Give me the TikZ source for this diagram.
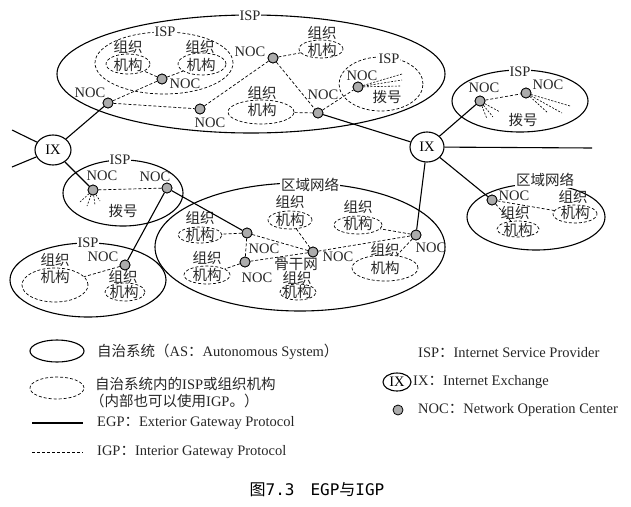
\documentclass[tikz,border=0pt]{standalone}
\usepackage{fontspec}
\setmainfont{Liberation Serif}
\newfontfamily\cjk{Noto Sans CJK SC}
\newfontfamily\capmono{DejaVu Sans Mono}
\usetikzlibrary{shapes.geometric}
\definecolor{txt}{HTML}{262626}
\begin{document}
\begin{tikzpicture}[x=1pt,y=-1pt,
  as/.style={draw, ellipse, line width=1.1pt, inner sep=0pt},
  sub/.style={draw, ellipse, line width=0.7pt, dash pattern=on 3pt off 2pt, inner sep=0pt},
  noc/.style={circle, draw, fill=gray!65, line width=0.8pt, minimum size=10pt, inner sep=0pt},
  ixn/.style={draw, ellipse, line width=1.1pt, inner sep=0pt, font=\fontsize{14.5}{15}\selectfont},
  egp/.style={line width=1.1pt},
  igp/.style={line width=0.7pt, dash pattern=on 3pt off 2pt},
  dial/.style={line width=0.6pt, dash pattern=on 2pt off 1.5pt},
  lbl/.style={font=\fontsize{14.5}{15}\selectfont, text=txt, inner sep=0.5pt},
  zh/.style={font=\cjk\fontsize{14.5}{15}\selectfont, text=txt, inner sep=0pt},
  top/.style={fill=white, inner sep=1pt},
  leg/.style={anchor=west, font=\fontsize{14.5}{16}\selectfont, text=txt, inner sep=0pt},
]
\useasboundingbox (0,0) rectangle (631,506);

% ===== top AS =====
\node[as, minimum width=388, minimum height=118] (as1) at (251,74) {};
\node[lbl, top] (as1l) at (250,16) {ISP};
\node[sub, minimum width=138, minimum height=62] (isp1) at (164,63) {};
\node[lbl, top] (isp1l) at (165,32) {ISP};
\node[sub, minimum width=44, minimum height=20] (o1a) at (128,64) {};
\node[zh] (o1at) at (128,47) {组织};
\node[zh] (o1ab) at (128,65) {机构};
\node[sub, minimum width=48, minimum height=22] (o1b) at (202,64) {};
\node[zh] (o1bt) at (200,47) {组织};
\node[zh] (o1bb) at (201,65) {机构};
\node[noc] (n1) at (162,79) {};
\node[lbl] (n1l) at (185,84) {NOC};
\node[noc] (n2) at (108,103) {};
\node[lbl] (n2l) at (90,93) {NOC};
\node[noc] (n3) at (200,109) {};
\node[lbl] (n3l) at (210,123) {NOC};
\node[noc] (n4) at (273,58) {};
\node[lbl] (n4l) at (250,52) {NOC};
\node[sub, minimum width=44, minimum height=18] (o1c) at (321,49) {};
\node[zh] (o1ct) at (322,33) {组织};
\node[zh] (o1cb) at (322,50) {机构};
\node[sub, minimum width=66, minimum height=24] (o1d) at (261,112) {};
\node[zh] (o1dt) at (262,93) {组织};
\node[zh] (o1db) at (262,110) {机构};
\node[noc] (n5) at (318,113) {};
\node[lbl] (n5l) at (323,95) {NOC};
\node[sub, minimum width=84, minimum height=54] (isp2) at (381,84) {};
\node[lbl, top] (isp2l) at (389,59) {ISP};
\node[noc] (n6) at (358,87) {};
\node[lbl] (n6l) at (362,76) {NOC};
\node[zh] (d6) at (387,97) {拨号};
\coordinate (d6a) at (402,74);
\coordinate (d6b) at (402,80);
\coordinate (d6c) at (400,86);

% ===== left IX & ISPs =====
\node[ixn, minimum width=36, minimum height=30] (ix1) at (53,150) {IX};
\coordinate (e1) at (12,130);
\coordinate (e2) at (12,167);
\node[as, minimum width=120, minimum height=66] (isp3) at (123,193) {};
\node[lbl, top] (isp3l) at (120,160) {ISP};
\node[noc] (n7) at (93,190) {};
\node[lbl] (n7l) at (102,176) {NOC};
\node[noc] (n8) at (167,188) {};
\node[lbl] (n8l) at (155,177) {NOC};
\node[zh] (d7) at (123,211) {拨号};
\coordinate (d7a) at (80,202);
\coordinate (d7b) at (87,206);
\coordinate (d7c) at (95,205);
\coordinate (d7d) at (100,201);

\node[as, minimum width=156, minimum height=74] (isp4) at (88,280) {};
\node[lbl, top] (isp4l) at (88,243) {ISP};
\node[noc] (n9) at (125,265) {};
\node[lbl] (n9l) at (103,257) {NOC};
\node[sub, minimum width=66, minimum height=34] (o4a) at (55,285) {};
\node[zh] (o4at) at (55,260) {组织};
\node[zh] (o4ab) at (55,277) {机构};
\node[sub, minimum width=40, minimum height=18] (o4b) at (125,292) {};
\node[zh] (o4bt) at (123,277) {组织};
\node[zh] (o4bb) at (124,292) {机构};

% ===== middle region =====
\node[as, minimum width=290, minimum height=128] (r1) at (300,247) {};
\node[zh, top] (r1l) at (310,185) {区域网络};
\node[noc] (nA) at (247,233) {};
\node[lbl] (nAl) at (264,249) {NOC};
\node[noc] (nB) at (245,262) {};
\node[lbl] (nBl) at (257,278) {NOC};
\node[noc] (nC) at (313,252) {};
\node[lbl] (nCl) at (338,257) {NOC};
\node[noc] (nD) at (416,235) {};
\node[lbl] (nDl) at (431,248) {NOC};
\node[sub, minimum width=44, minimum height=16] (rA) at (200,235) {};
\node[zh] (rAt) at (200,218) {组织};
\node[zh] (rAb) at (200,235) {机构};
\node[sub, minimum width=46, minimum height=18] (rB) at (207,275) {};
\node[zh] (rBt) at (207,258) {组织};
\node[zh] (rBb) at (207,275) {机构};
\node[sub, minimum width=44, minimum height=18] (rC) at (290,220) {};
\node[zh] (rCt) at (290,202) {组织};
\node[zh] (rCb) at (290,220) {机构};
\node[zh] (bb) at (296,264) {骨干网};
\node[sub, minimum width=36, minimum height=16] (rD) at (298,292) {};
\node[zh] (rDt) at (297,278) {组织};
\node[zh] (rDb) at (297,292) {机构};
\node[sub, minimum width=48, minimum height=18] (rE) at (358,225) {};
\node[zh] (rEt) at (358,207) {组织};
\node[zh] (rEb) at (358,224) {机构};
\node[sub, minimum width=66, minimum height=26] (rF) at (385,268) {};
\node[zh] (rFt) at (385,250) {组织};
\node[zh] (rFb) at (385,268) {机构};

% ===== right IX & ISP =====
\node[ixn, minimum width=34, minimum height=30] (ix2) at (427,147) {IX};
\coordinate (e3) at (592,148);
\node[as, minimum width=136, minimum height=62] (isp5) at (520,101) {};
\node[lbl, top] (isp5l) at (520,72) {ISP};
\node[noc] (n10) at (480,101) {};
\node[lbl] (n10l) at (484,88) {NOC};
\node[noc] (n11) at (526,93) {};
\node[lbl] (n11l) at (548,85) {NOC};
\node[zh] (d10) at (523,120) {拨号};
\coordinate (d10a) at (487,119);
\coordinate (d10b) at (493,117);
\coordinate (d10c) at (500,112);
\coordinate (d11a) at (570,106);
\coordinate (d11b) at (562,113);
\coordinate (d11c) at (548,113);

\node[as, minimum width=138, minimum height=66] (r2) at (536,217) {};
\node[zh, top] (r2l) at (545,180) {区域网络};
\node[noc] (n12) at (492,200) {};
\node[lbl] (n12l) at (514,196) {NOC};
\node[sub, minimum width=42, minimum height=16] (rG) at (518,229) {};
\node[zh] (rGt) at (515,213) {组织};
\node[zh] (rGb) at (518,230) {机构};
\node[sub, minimum width=44, minimum height=18] (rH) at (575,214) {};
\node[zh] (rHt) at (573,197) {组织};
\node[zh] (rHb) at (575,213) {机构};

% ===== EGP links =====
\draw[egp] (ix1) -- (n2);
\draw[egp] (ix1) -- (n7);
\draw[egp] (ix1) -- (e1);
\draw[egp] (ix1) -- (e2);
\draw[egp] (n8) -- (n9);
\draw[egp] (n8) -- (nA);
\draw[egp] (n5) -- (ix2);
\draw[egp] (ix2) -- (n10);
\draw[egp] (ix2) -- (e3);
\draw[egp] (ix2) -- (nD);
\draw[egp] (ix2) -- (n12);

% ===== IGP links =====
\draw[igp] (n2) -- (n1);
\draw[igp] (n2) -- (n3);
\draw[igp] (n1) -- (o1a);
\draw[igp] (n1) -- (o1b);
\draw[igp] (n3) -- (n4);
\draw[igp] (n4) -- (o1c);
\draw[igp] (n4) -- (n5);
\draw[igp] (n5) -- (o1d);
\draw[igp] (n5) -- (n6);
\draw[igp] (n7) -- (n8);
\draw[igp] (n9) -- (o4a);
\draw[igp] (n10) -- (n11);
\draw[igp] (nA) -- (rA);
\draw[igp] (nA) -- (nB);
\draw[igp] (nA) -- (nC);
\draw[igp] (nB) -- (rB);
\draw[igp] (nB) -- (nC);
\draw[igp] (nC) -- (rC);
\draw[igp] (nC) -- (nD);
\draw[igp] (nD) -- (rE);
\draw[igp] (nD) -- (rF);
\draw[igp] (n12) -- (rH);
\draw[igp] (n12) -- (rG);

% dial-up
\foreach \p in {d6a,d6b,d6c} \draw[dial] (n6) -- (\p);
\foreach \p in {d7a,d7b,d7c,d7d} \draw[dial] (n7) -- (\p);
\foreach \p in {d10a,d10b,d10c} \draw[dial] (n10) -- (\p);
\foreach \p in {d11a,d11b,d11c} \draw[dial] (n11) -- (\p);

% redraw NOC dots on top
\foreach \n in {n1,n2,n3,n4,n5,n6,n7,n8,n9,n10,n11,n12,nA,nB,nC,nD}
  \node[noc] at (\n) {};

% ===== legend =====
\node[as, minimum width=54, minimum height=22] (lg1) at (57,351) {};
\node[leg] (lg1t) at (97,352) {{\cjk 自治系统（}AS{\cjk ：}Autonomous System{\cjk ）}};
\node[sub, minimum width=54, minimum height=22] (lg2) at (57,388) {};
\node[leg] (lg2t) at (95,384) {{\cjk 自治系统内的}ISP{\cjk 或组织机构}};
\node[leg] (lg2u) at (90,401) {{\cjk （内部也可以使用}IGP{\cjk 。）}};
\coordinate (lg3a) at (32,423);
\coordinate (lg3b) at (83,423);
\draw[egp] (lg3a) -- (lg3b);
\node[leg] (lg3t) at (97,423) {EGP{\cjk ：}Exterior Gateway Protocol};
\coordinate (lg4a) at (32,452);
\coordinate (lg4b) at (83,452);
\draw[igp] (lg4a) -- (lg4b);
\node[leg] (lg4t) at (97,452) {IGP{\cjk ：}Interior Gateway Protocol};
\node[leg] (lg5t) at (418,353) {ISP{\cjk ：}Internet Service Provider};
\node[ixn, minimum width=28, minimum height=18] (lg6) at (397,382) {IX};
\node[leg] (lg6t) at (413,382) {IX{\cjk ：}Internet Exchange};
\node[noc] (lg7) at (398,410) {};
\node[leg] (lg7t) at (418,410) {NOC{\cjk ：}Network Operation Center};

% caption
\node[font=\fontsize{16}{17}\selectfont, text=black, inner sep=0pt] (cap) at (317,490)
  {{\cjk 图}\capmono 7.3\hspace{16pt}EGP{\cjk 与}IGP};
\end{tikzpicture}
\end{document}
